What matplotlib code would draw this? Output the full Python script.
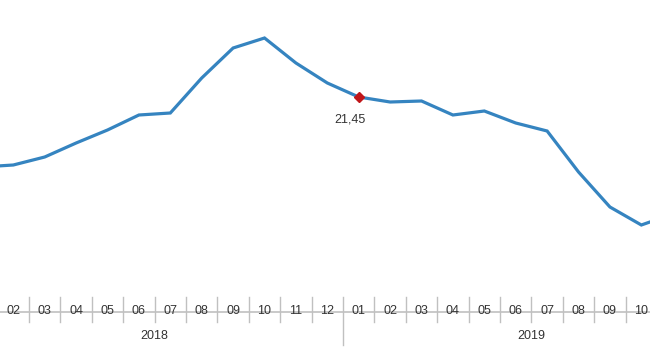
import matplotlib
matplotlib.use('Agg')
import matplotlib.pyplot as plt
import matplotlib.transforms as mtransforms

plt.rcParams['font.family'] = ['Liberation Sans', 'DejaVu Sans']

# monthly series, 01/2018 .. 11/2019 (only 02/2018..10/2019 fully visible)
months = ['01', '02', '03', '04', '05', '06', '07', '08', '09', '10', '11', '12',
          '01', '02', '03', '04', '05', '06', '07', '08', '09', '10', '11']
years = ['2018', '2019']
values = [14.45, 14.65, 15.45, 16.85, 18.15, 19.65, 19.85, 23.35, 26.35, 27.35, 24.85, 22.85,
          21.45, 20.95, 21.05, 19.65, 20.05, 18.85, 18.05, 13.95, 10.45, 8.65, 9.75]
highlight_idx = 12
highlight_label = '21,45'

x = list(range(len(values)))

fig = plt.figure(figsize=(6.5, 3.6), dpi=100)
ax = fig.add_axes([0, 1 - 297 / 360, 1, 297 / 360])
ax.plot(x, values, color='#3584c0', lw=2.3, solid_joinstyle='miter', zorder=2)
ax.plot([x[highlight_idx]], [values[highlight_idx]], marker='D', ms=5.5,
        color='#c0161a', mec='#c0161a', zorder=3)
ax.annotate(highlight_label, (x[highlight_idx], values[highlight_idx]),
            xytext=(-6, -16), textcoords='offset points', ha='center', va='center',
            fontsize=9, color='#333333')

ax.set_xlim(0.576, 21.276)
ax.set_ylim(1.45, 31.15)
for s in ax.spines.values():
    s.set_visible(False)
ax.set_xticks([])
ax.set_yticks([])

# category axis drawn below the plot
trans = mtransforms.blended_transform_factory(ax.transData, ax.transAxes)
px = 1 / 297  # one pixel in axes-fraction units
ax.axhline(0, color='#c0c0c0', lw=1.2, clip_on=False)
for i, m in enumerate(months):
    ax.text(i, -14 * px, m, transform=trans, ha='center', va='center',
            fontsize=9, color='#333333', clip_on=False)
    sep_len = 48 if i == 11 else 25
    ax.plot([i + 0.5, i + 0.5], [0, -sep_len * px], transform=trans,
            color='#c0c0c0', lw=1, clip_on=False)
for j, y in enumerate(years):
    ax.text(5.5 + 12 * j, -39 * px, y, transform=trans, ha='center', va='center',
            fontsize=9, color='#333333', clip_on=False)

fig.savefig('out.png', dpi=100)
